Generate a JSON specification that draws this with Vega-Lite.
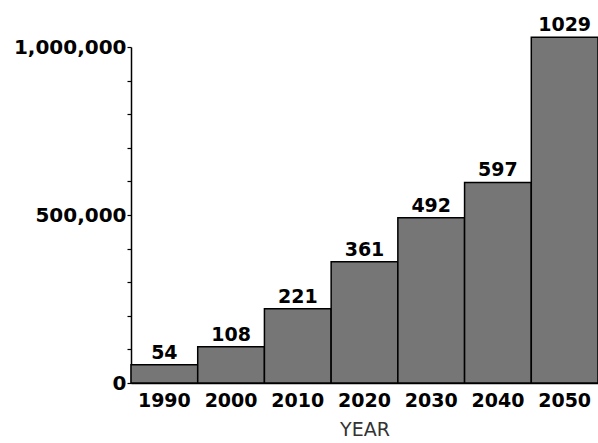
{
  "$schema": "https://vega.github.io/schema/vega-lite/v6.json",
  "autosize": {"type": "none"},
  "padding": {"left": 131, "top": 47, "right": 0, "bottom": 60},
  "width": 467,
  "height": 336,
  "background": "white",
  "config": {"view": {"stroke": null}, "font": "DejaVu Sans"},
  "data": {"values": [
    {"year": "1990", "value": 54000, "label": "54"},
    {"year": "2000", "value": 108000, "label": "108"},
    {"year": "2010", "value": 221000, "label": "221"},
    {"year": "2020", "value": 361000, "label": "361"},
    {"year": "2030", "value": 492000, "label": "492"},
    {"year": "2040", "value": 597000, "label": "597"},
    {"year": "2050", "value": 1029000, "label": "1029"}
  ]},
  "encoding": {
    "x": {"field": "year", "type": "ordinal", "scale": {"paddingInner": 0, "paddingOuter": 0},
      "axis": {"title": "YEAR", "titleFont": "DejaVu Sans", "titleFontWeight": "normal", "titleFontSize": 19, "titleColor": "#333", "titlePadding": 10,
        "labelAngle": 0, "labelFontSize": 19, "labelFontWeight": "bold", "labelColor": "black", "labelPadding": 8,
        "ticks": false, "domainColor": "black", "domainWidth": 1.5}},
    "y": {"field": "value", "type": "quantitative", "scale": {"domain": [0, 1000000], "nice": false},
      "axis": {"title": null, "values": [0, 100000, 200000, 300000, 400000, 500000, 600000, 700000, 800000, 900000, 1000000],
        "labelExpr": "datum.value == 0 ? '0' : datum.value == 500000 ? '500,000' : datum.value == 1000000 ? '1,000,000' : ''",
        "labelFontSize": 20, "labelFontWeight": "bold", "labelColor": "black", "labelPadding": 1,
        "tickSize": 4, "tickColor": "black", "tickWidth": 1.2, "domainColor": "black", "domainWidth": 1.5, "grid": false,
        "labelFlush": false}}
  },
  "layer": [
    {"mark": {"type": "bar", "fill": "#767676", "stroke": "black", "strokeWidth": 1.5, "clip": false}},
    {"mark": {"type": "text", "baseline": "alphabetic", "dy": -6, "fontSize": 19, "fontWeight": "bold", "color": "black"},
      "encoding": {"text": {"field": "label"}}}
  ]
}
